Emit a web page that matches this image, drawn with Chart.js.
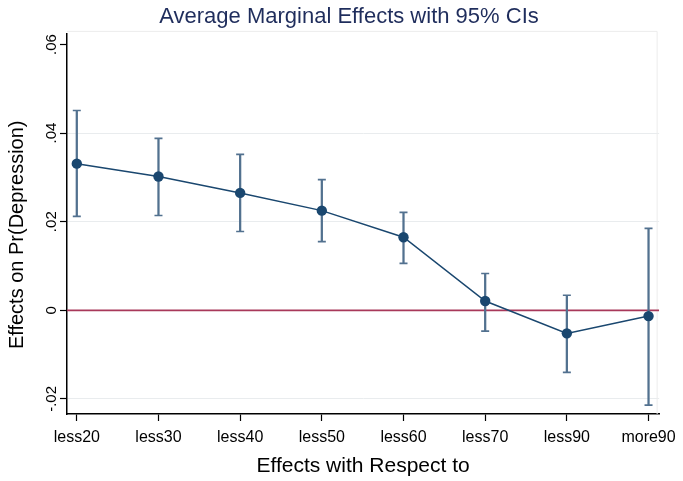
<!DOCTYPE html>
<html lang="en">
<head>
    <meta charset="UTF-8">
    <title>Average Marginal Effects with 95% CIs</title>
    <script src="https://cdn.jsdelivr.net/npm/chart.js"></script>
    <style>
        html, body { margin: 0; padding: 0; background: #fff; }
        #wrap { width: 683px; height: 481px; }
    </style>
</head>
<body>
    <div id="wrap"><canvas id="amePlot"></canvas></div>

    <script>
        // categories and estimates
        const categories = ['less20', 'less30', 'less40', 'less50', 'less60', 'less70', 'less90', 'more90'];
        const effects = [0.0331, 0.0302, 0.0265, 0.0225, 0.0165, 0.0021, -0.0052, -0.0013];
        const ciLower = [0.0212, 0.0214, 0.0178, 0.0155, 0.0106, -0.0047, -0.0140, -0.0214];
        const ciUpper = [0.0451, 0.0388, 0.0352, 0.0295, 0.0221, 0.0083, 0.0034, 0.0185];
        const yTicks = [-0.02, 0, 0.02, 0.04, 0.06];
        const yTickLabels = ['-.02', '0', '.02', '.04', '.06'];

        const X_MIN = -0.12, X_MAX = 7.13;
        const Y_MIN = -0.0234, Y_MAX = 0.0625;

        const navy = '#1a476f';
        const ciColor = '#52718f';
        const refRed = '#a8385a';
        const font = 'Liberation Sans';

        // faint plot region edge (top / right) like the Stata scheme
        const plotEdge = {
            id: 'plotEdge',
            beforeDatasetsDraw(chart) {
                const { ctx, chartArea: a } = chart;
                ctx.save();
                ctx.strokeStyle = '#ececec';
                ctx.lineWidth = 1;
                ctx.beginPath();
                ctx.moveTo(a.left, a.top - 2);
                ctx.lineTo(a.right - 2, a.top - 2);
                ctx.lineTo(a.right - 2, a.bottom);
                ctx.stroke();
                ctx.restore();
            }
        };

        const pts = effects.map((v, i) => ({ x: i, y: v }));
        const bars = categories.map((_, i) => ({ x: i, y: [ciLower[i], ciUpper[i]] }));
        const caps = [];
        categories.forEach((_, i) => {
            caps.push({ x: i, y: ciLower[i] });
            caps.push({ x: i, y: ciUpper[i] });
        });

        new Chart(document.getElementById('amePlot'), {
            type: 'line',
            data: {
                datasets: [
                    {
                        label: 'AME',
                        type: 'line',
                        data: pts,
                        borderColor: navy,
                        borderWidth: 1.5,
                        pointRadius: 5.2,
                        pointBackgroundColor: navy,
                        pointBorderWidth: 0,
                        tension: 0,
                        order: 0
                    },
                    {
                        label: 'caps',
                        type: 'scatter',
                        data: caps,
                        pointStyle: 'line',
                        pointRadius: 4,
                        borderColor: ciColor,
                        borderWidth: 1.6,
                        order: 1
                    },
                    {
                        label: 'CI',
                        type: 'bar',
                        data: bars,
                        backgroundColor: ciColor,
                        borderWidth: 0,
                        barThickness: 1.6,
                        order: 2
                    },
                    {
                        label: 'zero',
                        type: 'line',
                        data: [{ x: X_MIN, y: 0 }, { x: X_MAX, y: 0 }],
                        borderColor: refRed,
                        borderWidth: 1.8,
                        pointRadius: 0,
                        order: 3
                    }
                ]
            },
            options: {
                responsive: true,
                maintainAspectRatio: false,
                animation: false,
                layout: { padding: { left: 15, right: 0, top: 0, bottom: 0 } },
                plugins: {
                    legend: { display: false },
                    tooltip: { enabled: false },
                    title: {
                        display: true,
                        text: 'Average Marginal Effects with 95% CIs',
                        color: '#1f2d5c',
                        font: { family: font, size: 22, weight: 'normal' },
                        padding: { top: 4, bottom: 3 }
                    }
                },
                scales: {
                    x: {
                        type: 'linear',
                        min: X_MIN,
                        max: X_MAX,
                        offset: false,
                        afterBuildTicks(scale) {
                            scale.ticks = categories.map((_, i) => ({ value: i }));
                        },
                        afterFit(scale) { scale.height = 67; },
                        ticks: {
                            autoSkip: false,
                            maxRotation: 0,
                            color: '#000',
                            padding: 7,
                            font: { family: font, size: 16 },
                            callback: (v) => categories[v]
                        },
                        grid: {
                            offset: false,
                            drawOnChartArea: false,
                            tickLength: 7,
                            tickColor: '#000',
                            tickWidth: 1.2
                        },
                        border: { color: '#000', width: 1.5 },
                        title: {
                            display: true,
                            text: 'Effects with Respect to',
                            color: '#000',
                            font: { family: font, size: 21 },
                            padding: { top: 0, bottom: 2 }
                        }
                    },
                    y: {
                        min: Y_MIN,
                        max: Y_MAX,
                        afterBuildTicks(scale) {
                            scale.ticks = yTicks.map(v => ({ value: v }));
                        },
                        afterFit(scale) { scale.width = 52; },
                        ticks: {
                            minRotation: 90,
                            maxRotation: 90,
                            crossAlign: 'center',
                            padding: -5,
                            color: '#000',
                            font: { family: font, size: 15 },
                            callback: (v) => {
                                const k = yTicks.findIndex(t => Math.abs(t - v) < 1e-9);
                                return k >= 0 ? yTickLabels[k] : '';
                            }
                        },
                        grid: {
                            color: (c) => {
                                const v = c.tick ? c.tick.value : null;
                                if (v === null || Math.abs(v) < 1e-9 || Math.abs(v - 0.06) < 1e-9) return 'rgba(0,0,0,0)';
                                return '#e9ecee';
                            },
                            lineWidth: 1,
                            tickLength: 7,
                            tickColor: '#000',
                            tickWidth: 1.2
                        },
                        border: { color: '#000', width: 1.5 },
                        title: {
                            display: true,
                            // trailing spaces nudge the rotated title down a little
                            text: 'Effects on Pr(Depression)    ',
                            color: '#000',
                            font: { family: font, size: 20 },
                            padding: { top: -10, bottom: 0 }
                        }
                    },
                    // empty strip on the right so the title sits where Stata puts it
                    yRight: {
                        position: 'right',
                        afterFit(scale) { scale.width = 19; },
                        ticks: { display: false },
                        grid: { display: false },
                        border: { display: false }
                    }
                }
            },
            plugins: [plotEdge]
        });
    </script>
</body>
</html>
